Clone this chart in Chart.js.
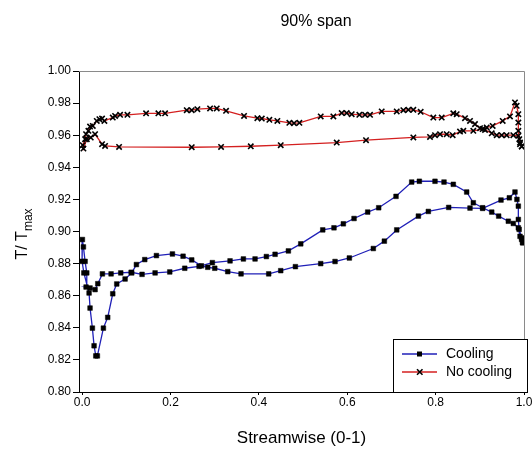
<!DOCTYPE html>
<html>
<head>
<meta charset="utf-8">
<script src="https://cdn.jsdelivr.net/npm/chart.js@4/dist/chart.umd.min.js"></script>
<style>
  html, body { margin: 0; padding: 0; background: #fff; }
  #wrap { width: 532px; height: 449px; }
</style>
</head>
<body>
<div id="wrap"><canvas id="chart-canvas" width="532" height="449"></canvas></div>
<script>
const chartTitle = "90% span";
const xTitle = "Streamwise (0-1)";
const seriesNames = ["Cooling", "No cooling"];
const xTicks = [0, 0.2, 0.4, 0.6, 0.8, 1.0];
const yTicks = [0.8, 0.82, 0.84, 0.86, 0.88, 0.9, 0.92, 0.94, 0.96, 0.98, 1.0];

// cooling: trailing edge -> upper branch back to leading edge -> dip branch -> trailing edge
const coolingX = [0.997, 0.9947, 0.991, 0.9872, 0.9758, 0.9645, 0.9427, 0.927, 0.9065, 0.8853,
  0.8703, 0.84, 0.819, 0.7986, 0.7632, 0.7459, 0.7104, 0.6712, 0.6463, 0.6154,
  0.5912, 0.57, 0.5446, 0.4948, 0.4668, 0.4367, 0.417, 0.3914, 0.365, 0.3348,
  0.2948, 0.2647, 0.2323, 0.1984, 0.1652, 0.1357, 0.111, 0.0875, 0.0656, 0.046,
  0.0355, 0.0294, 0.018, 0.009, 0.0106, 0.0068, 0.003, 0.0007, 0.0, 0.004,
  0.0158, 0.018, 0.0233, 0.0271, 0.031, 0.0346, 0.0482, 0.058, 0.0694, 0.0784,
  0.0973, 0.1124, 0.1229, 0.1418, 0.1682, 0.2044, 0.2285, 0.2481, 0.27, 0.2843,
  0.3002, 0.3296, 0.3597, 0.4223, 0.4495, 0.4827, 0.54, 0.5724, 0.6048, 0.659,
  0.684, 0.712, 0.761, 0.7835, 0.8296, 0.8778, 0.9065, 0.948, 0.9668, 0.9796,
  0.984, 0.9872, 0.9872, 0.989, 0.9947, 0.997];
const coolingY = [0.893, 0.895, 0.897, 0.9023, 0.905, 0.9064, 0.9096, 0.9121, 0.9148, 0.9179,
  0.9246, 0.9294, 0.9308, 0.9313, 0.9313, 0.9308, 0.9219, 0.9148, 0.9121, 0.9081,
  0.9048, 0.9023, 0.901, 0.8923, 0.8879, 0.8858, 0.8844, 0.8829, 0.8829, 0.8817,
  0.8806, 0.8783, 0.8771, 0.8748, 0.8742, 0.8733, 0.8746, 0.8742, 0.8736, 0.8736,
  0.8675, 0.8638, 0.8648, 0.8654, 0.8742, 0.8814, 0.8904, 0.895, 0.8814, 0.8742,
  0.8617, 0.8523, 0.8398, 0.8288, 0.8225, 0.8225, 0.8398, 0.8465, 0.8612, 0.8673,
  0.8704, 0.8742, 0.8794, 0.8825, 0.885, 0.886, 0.8846, 0.8823, 0.8786, 0.8777,
  0.8771, 0.875, 0.8736, 0.8736, 0.8756, 0.8781, 0.88, 0.8813, 0.8835, 0.8894,
  0.894, 0.901, 0.9096, 0.9125, 0.915, 0.9146, 0.9144, 0.9196, 0.921, 0.9246,
  0.92, 0.9158, 0.9075, 0.9013, 0.896, 0.893];

// no cooling: trailing edge -> wavy upper branch -> leading edge -> lower branch -> trailing edge
const noCoolingX = [0.995, 0.991, 0.9872, 0.9758, 0.9608, 0.9495, 0.9382, 0.927, 0.9118, 0.9005,
  0.8891, 0.8778, 0.8665, 0.8477, 0.84, 0.8138, 0.7948, 0.7662, 0.7496, 0.7383,
  0.727, 0.712, 0.678, 0.6516, 0.6403, 0.6274, 0.6101, 0.5988, 0.5875, 0.5686,
  0.54, 0.4917, 0.4796, 0.469, 0.4419, 0.4238, 0.4066, 0.3966, 0.3665, 0.3258,
  0.3047, 0.2896, 0.2609, 0.2481, 0.2368, 0.1878, 0.1727, 0.1448, 0.1026, 0.086,
  0.0747, 0.0694, 0.0505, 0.0452, 0.0392, 0.0332, 0.0242, 0.018, 0.0143, 0.009,
  0.0068, 0.0015, 0.003, 0.0106, 0.0196, 0.0294, 0.0452, 0.052, 0.0837, 0.2481,
  0.3145, 0.3817, 0.4495, 0.5762, 0.6425, 0.7496, 0.7873, 0.7986, 0.81, 0.8251,
  0.8386, 0.8552, 0.8627, 0.8853, 0.9065, 0.9156, 0.9291, 0.9518, 0.9683, 0.9796,
  0.9834, 0.9872, 0.9872, 0.9872, 0.9894, 0.991, 0.995];
const noCoolingY = [0.953, 0.9554, 0.9596, 0.96, 0.96, 0.96, 0.96, 0.9612, 0.9633, 0.9644,
  0.9669, 0.9689, 0.9706, 0.9731, 0.9736, 0.971, 0.971, 0.9746, 0.9758, 0.9758,
  0.9756, 0.9748, 0.9748, 0.9727, 0.9727, 0.9727, 0.9731, 0.9738, 0.9738, 0.9717,
  0.9717, 0.9677, 0.9675, 0.9677, 0.9689, 0.9696, 0.9704, 0.9706, 0.972, 0.9752,
  0.9767, 0.9767, 0.9762, 0.9756, 0.9756, 0.9736, 0.9736, 0.9736, 0.9727, 0.9727,
  0.972, 0.971, 0.9689, 0.9704, 0.97, 0.9689, 0.9658, 0.9654, 0.9627, 0.9606,
  0.9575, 0.9538, 0.9517, 0.9575, 0.9585, 0.9606, 0.9544, 0.9533, 0.9527, 0.9525,
  0.9527, 0.9531, 0.9538, 0.9554, 0.9569, 0.9586, 0.9589, 0.96, 0.9606, 0.9606,
  0.96, 0.9623, 0.9627, 0.9627, 0.9638, 0.9648, 0.9658, 0.9689, 0.9717, 0.9804,
  0.9783, 0.9731, 0.9679, 0.9627, 0.9575, 0.9544, 0.953];

const FONT = "'Liberation Sans', Arial, sans-serif";
const COOL_COLOR = "#2020b8";
const NOCOOL_COLOR = "#d42020";

function toPoints(xs, ys) {
  return xs.map((x, i) => ({ x, y: ys[i] }));
}

// frame, title, y title with subscript, legend box inside the plot
const extrasPlugin = {
  id: "extras",
  afterDraw(chart) {
    const ctx = chart.ctx;
    const a = chart.chartArea;
    ctx.save();
    ctx.strokeStyle = "#8a8a8a";
    ctx.lineWidth = 1;
    ctx.beginPath();
    ctx.moveTo(a.left, a.top + 0.5);
    ctx.lineTo(a.right + 0.5, a.top + 0.5);
    ctx.lineTo(a.right + 0.5, a.bottom);
    ctx.stroke();

    ctx.fillStyle = "#000";
    ctx.font = "16px " + FONT;
    ctx.textAlign = "center";
    ctx.textBaseline = "middle";
    ctx.fillText(chartTitle, 316, 22);

    // y title "T/ Tmax"
    ctx.translate(21, 0);
    ctx.rotate(-Math.PI / 2);
    ctx.textAlign = "left";
    ctx.textBaseline = "alphabetic";
    ctx.font = "16px " + FONT;
    const mainText = "T/ T";
    const mw = ctx.measureText(mainText).width;
    ctx.font = "12px " + FONT;
    const sw = ctx.measureText("max").width;
    const start = -(234 + (mw + sw) / 2);
    ctx.font = "16px " + FONT;
    ctx.fillText(mainText, start, 6);
    ctx.font = "12px " + FONT;
    ctx.fillText("max", start + mw, 11);
    ctx.restore();

    // legend
    const bx = 393, by = 339, bw = 134, bh = 53;
    ctx.save();
    ctx.fillStyle = "#fff";
    ctx.fillRect(bx, by, bw, bh);
    ctx.strokeStyle = "#000";
    ctx.lineWidth = 1;
    ctx.strokeRect(bx + 0.5, by + 0.5, bw, bh);
    const rows = [
      { label: seriesNames[0], color: COOL_COLOR, marker: "rect", y: 354 },
      { label: seriesNames[1], color: NOCOOL_COLOR, marker: "cross", y: 372 },
    ];
    rows.forEach((r) => {
      ctx.strokeStyle = r.color;
      ctx.lineWidth = 1.3;
      ctx.beginPath();
      ctx.moveTo(402, r.y);
      ctx.lineTo(437, r.y);
      ctx.stroke();
      ctx.fillStyle = "#000";
      ctx.strokeStyle = "#000";
      if (r.marker === "rect") {
        ctx.fillRect(417, r.y - 2.5, 5, 5);
      } else {
        ctx.lineWidth = 1.6;
        ctx.beginPath();
        ctx.moveTo(417, r.y - 2.8);
        ctx.lineTo(422.5, r.y + 2.8);
        ctx.moveTo(422.5, r.y - 2.8);
        ctx.lineTo(417, r.y + 2.8);
        ctx.stroke();
      }
      ctx.font = "14px " + FONT;
      ctx.textAlign = "left";
      ctx.textBaseline = "middle";
      ctx.fillText(r.label, 446, r.y);
    });
    ctx.restore();
  },
};

function renderChart() {
  const ctx = document.getElementById("chart-canvas").getContext("2d");
  const config = {
    type: "scatter",
    data: {
      datasets: [
        {
          label: seriesNames[0],
          data: toPoints(coolingX, coolingY),
          showLine: true,
          borderColor: COOL_COLOR,
          borderWidth: 1.3,
          tension: 0,
          pointStyle: "rect",
          pointRadius: 3.3,
          pointBackgroundColor: "#000",
          pointBorderColor: "#000",
          pointBorderWidth: 0.5,
        },
        {
          label: seriesNames[1],
          data: toPoints(noCoolingX, noCoolingY),
          showLine: true,
          borderColor: NOCOOL_COLOR,
          borderWidth: 1.3,
          tension: 0,
          pointStyle: "crossRot",
          pointRadius: 3.8,
          pointBorderColor: "#000",
          pointBorderWidth: 1.6,
        },
      ],
    },
    options: {
      responsive: false,
      animation: false,
      layout: { padding: { left: 0, right: 8, top: 71, bottom: 0 } },
      plugins: {
        legend: { display: false },
        title: { display: false },
        tooltip: { enabled: false },
      },
      scales: {
        x: {
          type: "linear",
          min: -0.007,
          max: 1.0,
          afterBuildTicks: (scale) => {
            scale.ticks = xTicks.map((v) => ({ value: v }));
          },
          afterFit: (scale) => {
            scale.height = 57;
            scale.paddingLeft = 0;
            scale.paddingRight = 0;
          },
          grid: { drawOnChartArea: false, drawTicks: true, tickLength: 3, color: "#000" },
          border: { color: "#000", width: 1 },
          ticks: {
            color: "#000",
            padding: 0,
            maxRotation: 0,
            font: { family: FONT, size: 12 },
            callback: (v) => Number(v).toFixed(1),
          },
          title: {
            display: true,
            text: xTitle,
            color: "#000",
            font: { family: FONT, size: 17 },
            padding: { top: 18, bottom: 0 },
          },
        },
        y: {
          type: "linear",
          min: 0.8,
          max: 1.0,
          afterBuildTicks: (scale) => {
            scale.ticks = yTicks.map((v) => ({ value: v }));
          },
          afterFit: (scale) => {
            scale.width = 79;
          },
          grid: { drawOnChartArea: false, drawTicks: true, tickLength: 6, color: "#000" },
          border: { color: "#000", width: 1 },
          ticks: {
            color: "#000",
            padding: 2,
            font: { family: FONT, size: 12 },
            callback: (v) => Number(v).toFixed(2),
          },
        },
      },
    },
    plugins: [extrasPlugin],
  };
  new Chart(ctx, config);
}

renderChart();
</script>
</body>
</html>
